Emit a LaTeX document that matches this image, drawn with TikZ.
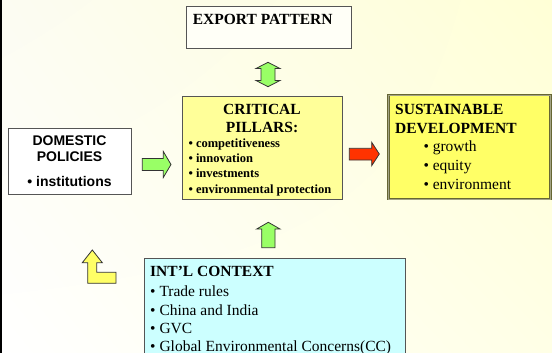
\documentclass[tikz,border=0pt]{standalone}
\usepackage{fontspec}
\setmainfont{Liberation Serif}
\newfontfamily\arialfont{Liberation Sans}
\usetikzlibrary{positioning,shadings}
\definecolor{bgyel}{HTML}{FFFFD6}
\definecolor{bgtl}{HTML}{FCFCF2}
\definecolor{bgbr}{HTML}{FFFFE6}
\definecolor{cpfill}{HTML}{FFFF99}
\definecolor{sdfill}{HTML}{FFFF66}
\definecolor{icfill}{HTML}{CCFFFF}
\definecolor{agreen}{HTML}{99FF66}
\definecolor{ared}{HTML}{FF3300}
\definecolor{ayel}{HTML}{FFFF66}
\definecolor{edge}{HTML}{555555}
\definecolor{sdedge}{HTML}{666633}
\tikzset{
  boxnode/.style={draw=edge, line width=1pt, inner sep=0pt, anchor=north west},
  title/.style={font=\fontsize{15.5}{17}\selectfont\bfseries, inner sep=0pt},
  cpitem/.style={font=\fontsize{12.5}{14}\selectfont\bfseries, inner sep=0pt, anchor=base west},
  item/.style={font=\fontsize{15.5}{17}\selectfont, inner sep=0pt, anchor=base west},
  dptext/.style={font=\arialfont\fontsize{14}{16}\selectfont\bfseries, inner sep=0pt, anchor=base},
  blockarrow/.style={draw=black!80, line width=0.8pt, line join=miter},
}
\begin{document}
\begin{tikzpicture}[x=1pt,y=-1pt]
\useasboundingbox (0,0) rectangle (552,353);
\clip (0,0) rectangle (552,353);
\shade[upper left=bgtl, upper right=bgyel, lower left=white, lower right=bgbr] (0,0) rectangle (552,353);
\draw[line width=1.5pt, black] (0.75,0) -- (0.75,353);

% boxes
\node[boxnode, fill=white!97!yellow, minimum width=165pt, minimum height=42pt] (ep) at (186,6) {};
\node[boxnode, fill=cpfill, minimum width=160pt, minimum height=103pt] (cp) at (182,96) {};
\node[boxnode, fill=sdfill, draw=sdedge, double=sdedge!60, double distance=0.6pt, line width=0.8pt, minimum width=162pt, minimum height=103.5pt] (sd) at (388,95) {};
\node[boxnode, fill=white, minimum width=123pt, minimum height=66pt] (dp) at (8,128) {};
\node[boxnode, fill=icfill, minimum width=260.5pt, minimum height=110pt] (ic) at (144,258.3) {};

% texts
\node[title, anchor=base west] (eptxt) at (192.7,25) {EXPORT PATTERN};

\node[title, anchor=base] (cpt1) at (262,114.3) {CRITICAL};
\node[title, anchor=base] (cpt2) at (262,132.7) {PILLARS:};
\node[cpitem] (cpi1) at (188.3,147.5) {• competitiveness};
\node[cpitem] (cpi2) at (188.3,162.7) {• innovation};
\node[cpitem] (cpi3) at (188.3,177.7) {• investments};
\node[cpitem] (cpi4) at (188.3,193) {• environmental protection};

\node[title, anchor=base west] (sdt1) at (395,114.3) {SUSTAINABLE};
\node[title, anchor=base west] (sdt2) at (395,133.3) {DEVELOPMENT};
\node[item] (sdi1) at (423.3,151.7) {• growth};
\node[item] (sdi2) at (423.3,170.5) {• equity};
\node[item] (sdi3) at (423.3,189.3) {• environment};

\node[dptext] (dpt1) at (69.5,145) {DOMESTIC};
\node[dptext] (dpt2) at (69.5,161) {POLICIES};
\node[dptext] (dpt3) at (69.5,186.7) {• institutions};

\node[title, anchor=base west] (ict) at (150,276.7) {INT’L CONTEXT};
\node[item] (ici1) at (150,296) {• Trade rules};
\node[item] (ici2) at (150,315) {• China and India};
\node[item] (ici3) at (150,333) {• GVC};
\node[item] (ici4) at (150,351.5) {• Global Environmental Concerns(CC)};

% block arrows
\draw[blockarrow, fill=agreen] (268,62.3) -- (280,68.5) -- (275,68.5) -- (275,80.5) -- (280,80.5)
  -- (268,86.7) -- (256,80.5) -- (261,80.5) -- (261,68.5) -- (256,68.5) -- cycle;
\draw[blockarrow, fill=ared] (349.3,148.3) -- (371.7,148.3) -- (371.7,142.3) -- (379.3,154)
  -- (371.7,165.7) -- (371.7,160) -- (349.3,160) -- cycle;
\draw[blockarrow, fill=agreen] (142.3,158.5) -- (163.3,158.5) -- (163.3,151.5) -- (171,164.5)
  -- (163.3,177.5) -- (163.3,170.5) -- (142.3,170.5) -- cycle;
\draw[blockarrow, fill=agreen] (268.3,222.3) -- (280,229) -- (275,229) -- (275,247.7)
  -- (261.7,247.7) -- (261.7,229) -- (256.7,229) -- cycle;
\draw[blockarrow, fill=ayel] (92.3,250) -- (102.3,262.7) -- (96.7,262.7) -- (96.7,272.3)
  -- (116,272.3) -- (116,283.3) -- (87.7,283.3) -- (87.7,262.7) -- (82.3,262.7) -- cycle;
\end{tikzpicture}
\end{document}
